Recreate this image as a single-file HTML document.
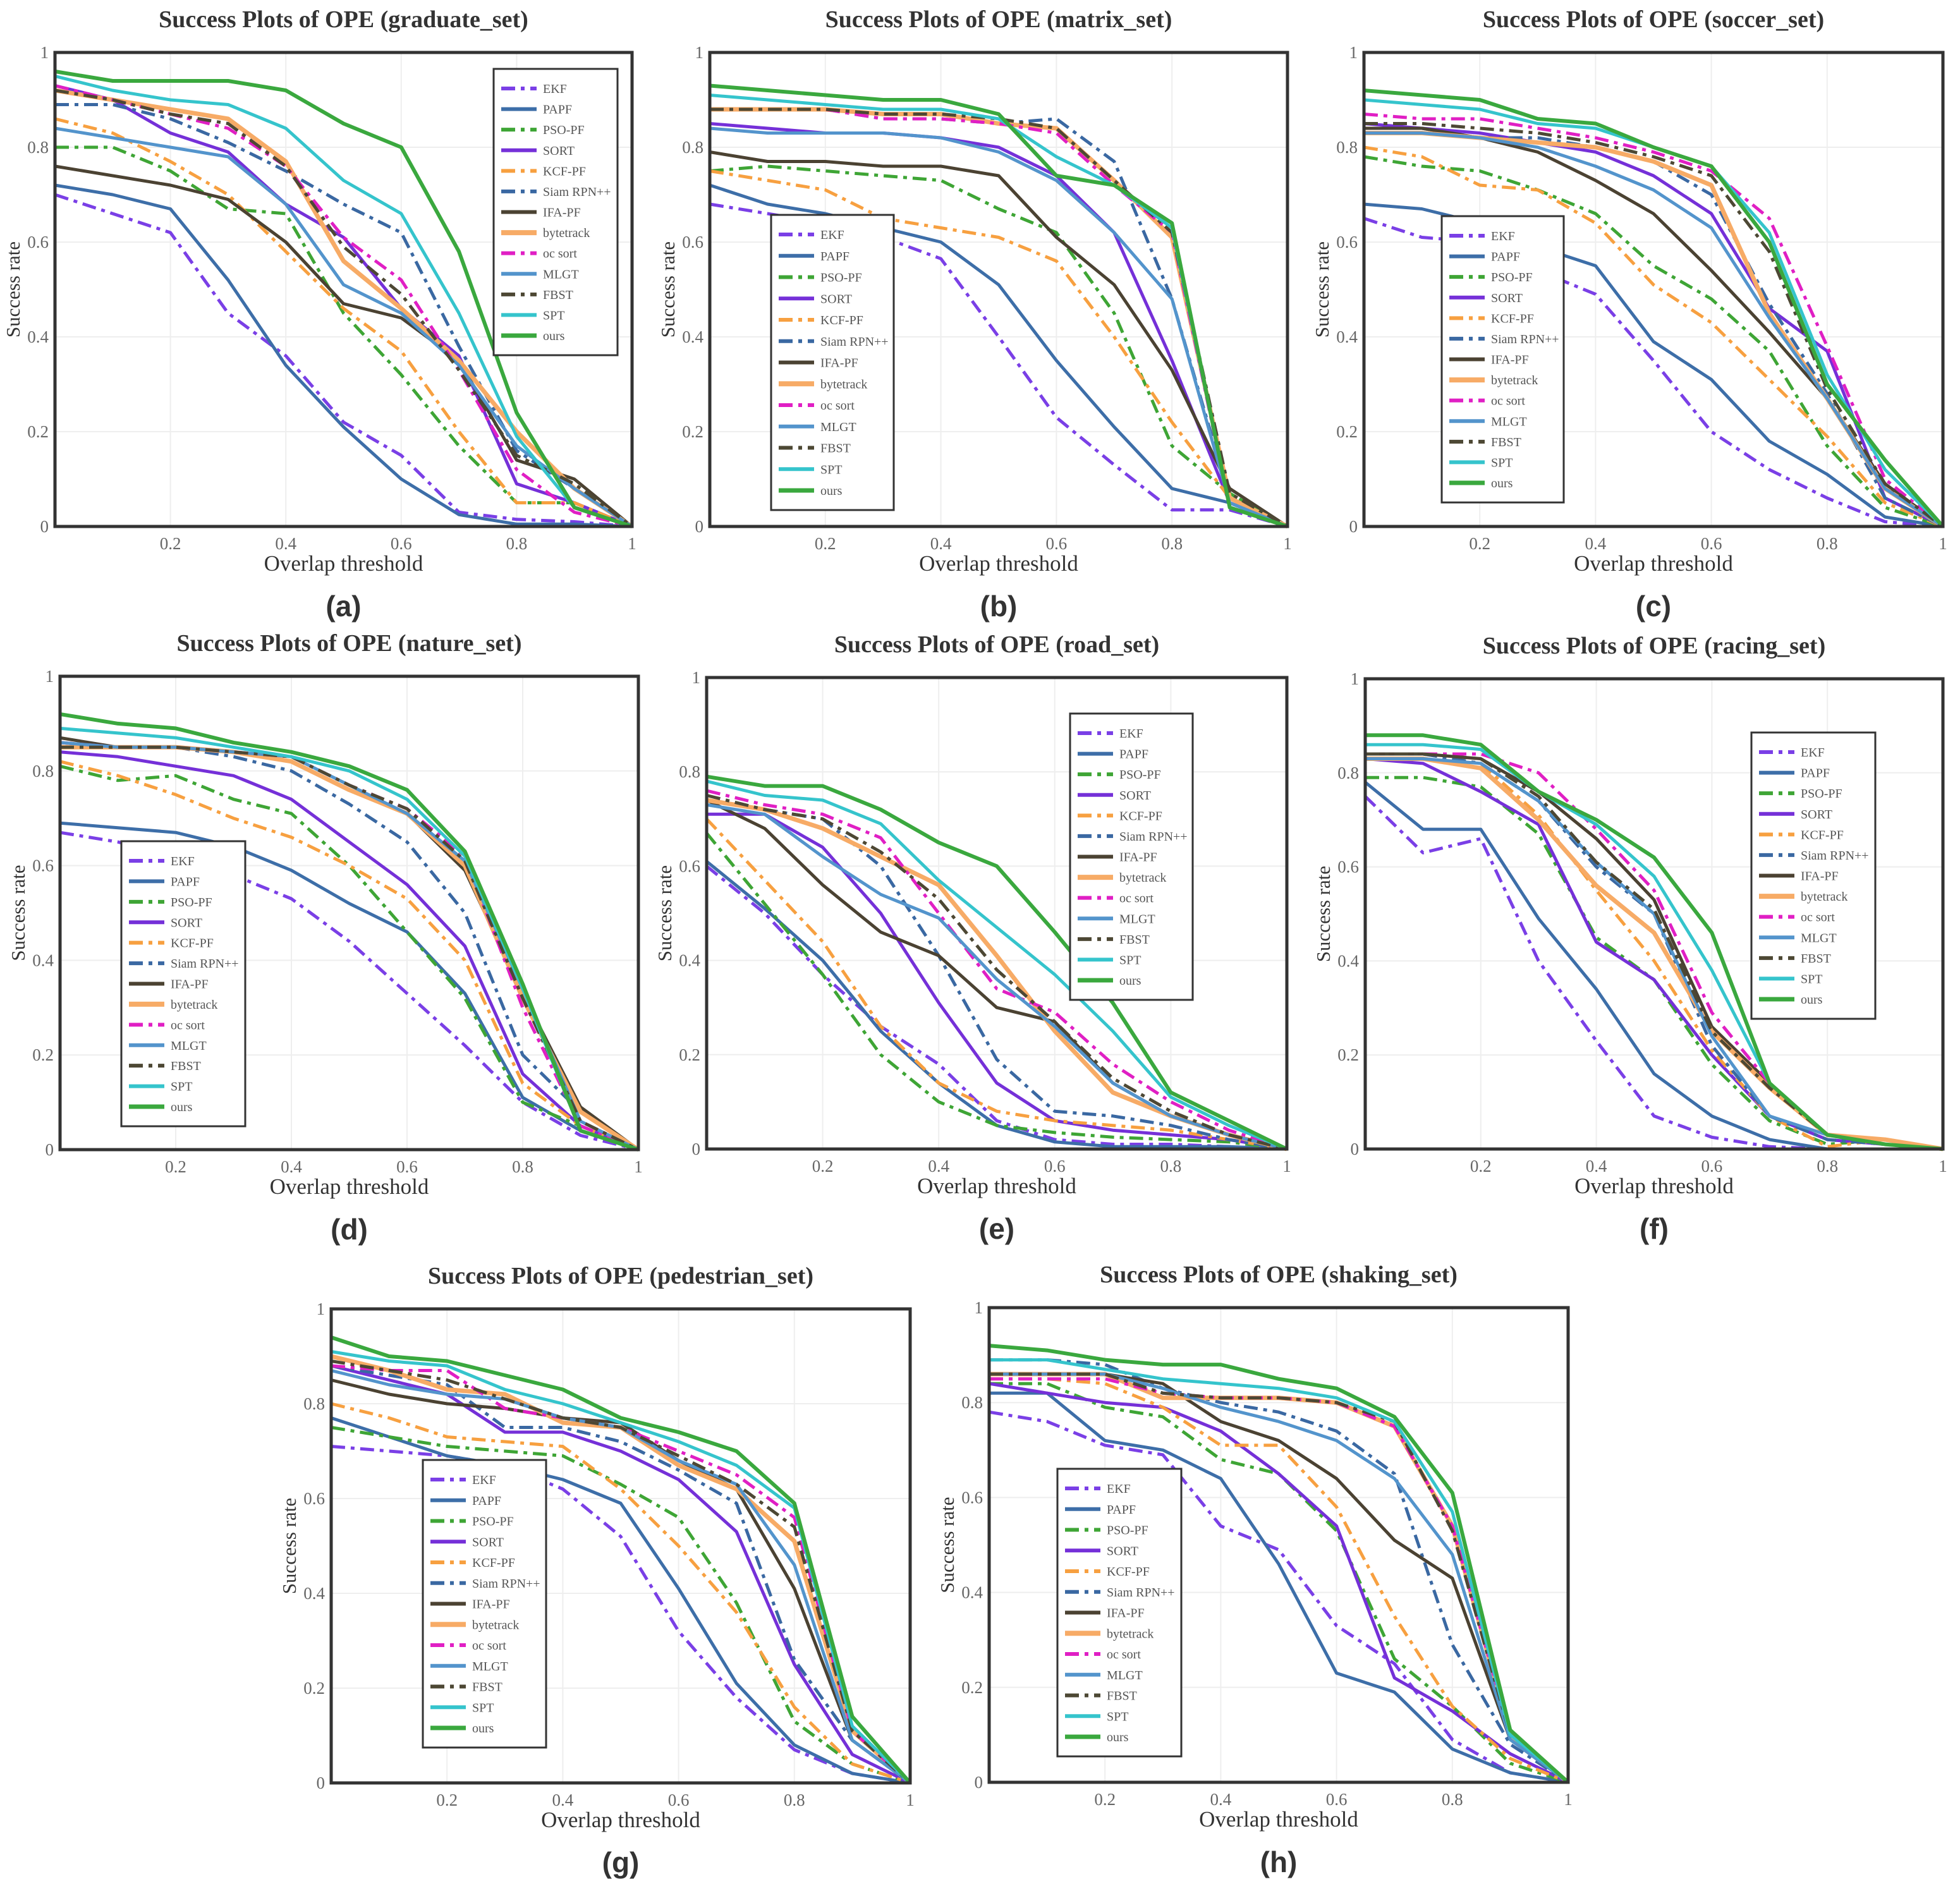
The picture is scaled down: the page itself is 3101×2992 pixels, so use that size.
<!DOCTYPE html>
<html><head><meta charset="utf-8">
<style>
html,body{margin:0;padding:0;background:#fff;}
svg{display:block;}
</style></head>
<body>
<svg id="fig" xmlns="http://www.w3.org/2000/svg" width="3101" height="2992" viewBox="0 0 3101 2992"></svg>
<script>
const thresholds = [0,0.1,0.2,0.3,0.4,0.5,0.6,0.7,0.8,0.9,1];
const seriesNames = ["EKF","PAPF","PSO-PF","SORT","KCF-PF","Siam RPN++","IFA-PF","bytetrack","oc sort","MLGT","FBST","SPT","ours"];
const xTickLabels = ["0.2","0.4","0.6","0.8","1"];
const yTickLabels = ["0","0.2","0.4","0.6","0.8","1"];
const panelTitles = ["graduate_set","matrix_set","soccer_set","nature_set","road_set","racing_set","pedestrian_set","shaking_set"];
const panelLetters = ["(a)","(b)","(c)","(d)","(e)","(f)","(g)","(h)"];

const graduateSet = [
[.70,.66,.62,.45,.36,.22,.15,.03,.015,.01,0],
[.72,.70,.67,.52,.34,.21,.10,.025,.005,.005,0],
[.80,.80,.75,.67,.66,.45,.32,.17,.05,.05,0],
[.93,.90,.83,.79,.68,.61,.46,.36,.09,.05,0],
[.86,.83,.77,.70,.58,.46,.37,.20,.05,.05,0],
[.89,.89,.86,.81,.75,.68,.62,.38,.16,.08,0],
[.76,.74,.72,.69,.60,.47,.44,.35,.14,.10,0],
[.92,.90,.88,.86,.77,.56,.46,.35,.20,.08,0],
[.93,.90,.87,.84,.76,.61,.52,.33,.12,.03,0],
[.84,.82,.80,.78,.68,.51,.45,.34,.17,.08,0],
[.92,.90,.87,.85,.76,.59,.49,.33,.15,.09,0],
[.95,.92,.90,.89,.84,.73,.66,.45,.19,.04,0],
[.96,.94,.94,.94,.92,.85,.80,.58,.24,.04,0]];
const matrixSet = [
[.68,.66,.64,.61,.565,.40,.23,.13,.035,.035,0],
[.72,.68,.66,.63,.60,.51,.35,.21,.08,.05,0],
[.75,.76,.75,.74,.73,.67,.62,.45,.17,.07,0],
[.85,.84,.83,.83,.82,.80,.74,.62,.35,.05,0],
[.75,.73,.71,.65,.63,.61,.56,.40,.22,.06,0],
[.88,.88,.88,.86,.86,.85,.86,.77,.48,.06,0],
[.79,.77,.77,.76,.76,.74,.61,.51,.33,.08,0],
[.88,.88,.88,.87,.87,.85,.84,.73,.61,.06,0],
[.88,.88,.88,.86,.86,.85,.83,.72,.62,.04,0],
[.84,.83,.83,.83,.82,.79,.73,.62,.48,.05,0],
[.88,.88,.88,.87,.87,.86,.84,.73,.62,.07,0],
[.91,.90,.89,.88,.88,.86,.78,.72,.63,.04,0],
[.93,.92,.91,.90,.90,.87,.74,.72,.64,.04,0]];
const soccerSet = [
[.65,.61,.60,.54,.49,.35,.20,.12,.06,.01,0],
[.68,.67,.64,.59,.55,.39,.31,.18,.11,.02,0],
[.78,.76,.75,.71,.66,.55,.48,.37,.17,.04,0],
[.85,.84,.83,.81,.79,.74,.66,.46,.37,.06,0],
[.80,.78,.72,.71,.64,.51,.43,.31,.19,.05,0],
[.84,.84,.82,.82,.80,.77,.70,.47,.28,.06,0],
[.84,.84,.82,.79,.73,.66,.54,.41,.27,.09,0],
[.83,.83,.82,.81,.80,.77,.72,.45,.27,.08,0],
[.87,.86,.86,.84,.82,.79,.75,.65,.38,.10,0],
[.83,.83,.82,.80,.76,.71,.63,.44,.27,.08,0],
[.85,.85,.84,.83,.81,.78,.74,.58,.29,.09,0],
[.90,.89,.88,.85,.84,.80,.76,.62,.32,.12,0],
[.92,.91,.90,.86,.85,.80,.76,.60,.30,.14,0]];
const natureSet = [
[.67,.65,.62,.58,.53,.44,.33,.22,.10,.03,0],
[.69,.68,.67,.64,.59,.52,.46,.33,.11,.04,0],
[.81,.78,.79,.74,.71,.60,.46,.32,.10,.05,0],
[.84,.83,.81,.79,.74,.65,.56,.43,.16,.05,0],
[.82,.79,.75,.70,.66,.60,.53,.40,.14,.05,0],
[.86,.85,.85,.83,.80,.73,.65,.50,.20,.08,0],
[.87,.85,.85,.84,.82,.76,.71,.59,.33,.09,0],
[.85,.85,.85,.84,.82,.76,.71,.60,.32,.08,0],
[.86,.85,.85,.84,.83,.77,.72,.62,.30,.05,0],
[.86,.85,.85,.84,.83,.77,.71,.61,.34,.06,0],
[.85,.85,.85,.84,.83,.77,.72,.61,.32,.06,0],
[.89,.88,.87,.85,.83,.80,.74,.62,.34,.04,0],
[.92,.90,.89,.86,.84,.81,.76,.63,.35,.04,0]];
const roadSet = [
[.60,.50,.37,.26,.18,.06,.02,.01,.01,.005,0],
[.61,.51,.40,.25,.14,.05,.015,.005,.005,.005,0],
[.67,.52,.37,.20,.10,.05,.035,.025,.02,.015,0],
[.71,.71,.64,.50,.31,.14,.06,.04,.03,.02,0],
[.70,.57,.44,.26,.14,.08,.06,.05,.04,.02,0],
[.74,.72,.70,.60,.41,.19,.08,.07,.05,.02,0],
[.74,.68,.56,.46,.41,.30,.27,.14,.07,.03,0],
[.74,.72,.68,.62,.56,.41,.25,.12,.07,.03,0],
[.76,.73,.71,.66,.50,.34,.29,.18,.10,.04,0],
[.73,.71,.62,.54,.49,.36,.26,.14,.07,.03,0],
[.75,.72,.70,.63,.53,.38,.27,.15,.08,.03,0],
[.78,.75,.74,.69,.57,.47,.37,.25,.11,.05,0],
[.79,.77,.77,.72,.65,.60,.46,.31,.12,.06,0]];
const racingSet = [
[.75,.63,.66,.40,.23,.07,.025,.005,0,0,0],
[.78,.68,.68,.49,.34,.16,.07,.02,0,0,0],
[.79,.79,.77,.67,.45,.36,.18,.06,.01,.02,0],
[.83,.82,.76,.69,.44,.36,.20,.07,.02,.01,0],
[.84,.84,.82,.71,.55,.40,.21,.07,.005,.02,0],
[.84,.84,.82,.74,.60,.50,.22,.07,.02,.01,0],
[.84,.84,.83,.76,.66,.53,.26,.14,.03,.01,0],
[.83,.83,.81,.70,.56,.46,.25,.13,.03,.02,0],
[.84,.84,.84,.80,.68,.55,.29,.14,.03,.01,0],
[.83,.83,.82,.74,.61,.50,.24,.07,.03,.01,0],
[.84,.84,.83,.75,.61,.51,.25,.13,.03,.01,0],
[.86,.86,.85,.76,.69,.58,.38,.14,.03,.01,0],
[.88,.88,.86,.76,.70,.62,.46,.14,.03,.01,0]];
const pedestrianSet = [
[.71,.70,.69,.67,.62,.52,.32,.18,.07,.02,0],
[.77,.73,.69,.67,.64,.59,.41,.21,.08,.02,0],
[.75,.73,.71,.70,.69,.63,.56,.38,.13,.04,0],
[.88,.85,.82,.74,.74,.70,.64,.53,.25,.06,0],
[.80,.77,.73,.72,.71,.62,.50,.36,.16,.04,0],
[.88,.86,.84,.75,.75,.72,.66,.59,.26,.09,0],
[.85,.82,.80,.79,.77,.76,.68,.62,.41,.09,0],
[.90,.87,.83,.82,.76,.75,.67,.62,.51,.11,0],
[.88,.87,.87,.79,.77,.75,.70,.65,.56,.11,0],
[.87,.84,.82,.81,.77,.75,.68,.63,.46,.09,0],
[.89,.87,.85,.81,.77,.75,.69,.63,.54,.11,0],
[.91,.89,.88,.83,.80,.76,.72,.67,.58,.12,0],
[.94,.90,.89,.86,.83,.77,.74,.70,.59,.14,0]];
const shakingSet = [
[.78,.76,.71,.69,.54,.49,.33,.25,.09,.02,0],
[.82,.82,.72,.70,.64,.46,.23,.19,.07,.02,0],
[.84,.84,.79,.77,.68,.65,.53,.26,.16,.04,0],
[.84,.82,.80,.79,.74,.65,.54,.22,.15,.06,0],
[.85,.85,.84,.79,.71,.71,.58,.35,.16,.05,0],
[.89,.89,.88,.83,.80,.78,.74,.65,.29,.08,0],
[.86,.86,.86,.84,.76,.72,.64,.51,.43,.09,0],
[.86,.86,.86,.81,.81,.81,.80,.75,.54,.10,0],
[.85,.85,.85,.82,.81,.81,.80,.75,.54,.10,0],
[.86,.86,.86,.83,.79,.76,.72,.64,.48,.09,0],
[.86,.86,.86,.82,.81,.81,.80,.76,.53,.10,0],
[.89,.89,.87,.85,.84,.83,.81,.76,.57,.10,0],
[.92,.91,.89,.88,.88,.85,.83,.77,.61,.11,0]];
const allSets = [graduateSet,matrixSet,soccerSet,natureSet,roadSet,racingSet,pedestrianSet,shakingSet];

// styling (not data)
const colors = ["#7a3fe6","#3d6ea8","#3ea535","#7530d8","#f7a040","#3a68a2","#4b4232","#f7ab66","#e01fc4","#5394cc","#4d4834","#35c4cc","#3aa83e"];
const dashed = [true,false,true,false,true,true,false,false,true,false,true,false,false];
const widths = [5,5,5,5,5,5,5,7,5,5,5,5,6];
const frames = [
 {L:87,R:1000,T:83,B:833},{L:1123,R:2037,T:83,B:833},{L:2158,R:3074,T:83,B:833},
 {L:95,R:1010,T:1070,B:1819},{L:1118,R:2036,T:1072,B:1818},{L:2160,R:3074,T:1074,B:1818},
 {L:524,R:1440,T:2071,B:2821},{L:1565,R:2481,T:2069,B:2820}];
const legends = [
 {x:781,y:109,w:196,h:453},{x:1220,y:340,w:194,h:467},{x:2281,y:342,w:193,h:453},
 {x:192,y:1331,w:196,h:451},{x:1693,y:1129,w:194,h:453},{x:2771,y:1159,w:196,h:453},
 {x:669,y:2310,w:195,h:455},{x:1673,y:2324,w:196,h:455}];

const NS="http://www.w3.org/2000/svg";
const svg=document.getElementById('fig');
function mk(tag,attrs,parent){const e=document.createElementNS(NS,tag);for(const k in attrs)e.setAttribute(k,attrs[k]);(parent||svg).appendChild(e);return e;}

allSets.forEach((set,p)=>{
  const f=frames[p];
  const sx=v=>f.L+v*(f.R-f.L);
  const sy=v=>f.B-v*(f.B-f.T);
  const cx=(f.L+f.R)/2;
  const g=mk('g',{});
  
  
  const t=mk('text',{x:cx,y:f.T-40,'text-anchor':'middle','font-family':'"Liberation Serif",serif','font-weight':'bold','font-size':38,fill:'#333'},g);
  t.textContent='Success Plots of OPE ('+panelTitles[p]+')';
  
  
  [0.2,0.4,0.6,0.8].forEach(v=>{
    const gx=mk('line',{x1:sx(v),x2:sx(v),y1:f.T,y2:f.B,stroke:'#eeeeee','stroke-width':2},g);
    
    
    const gy=mk('line',{x1:f.L,x2:f.R,y1:sy(v),y2:sy(v),stroke:'#eeeeee','stroke-width':2},g);
    
    
  });
  set.forEach((vals,i)=>{
    const d=vals.map((v,k)=>(k?'L':'M')+sx(thresholds[k]).toFixed(1)+' '+sy(v).toFixed(1)).join(' ');
    const pa=mk('path',{d:d,fill:'none',stroke:colors[i],'stroke-width':widths[i],'stroke-linejoin':'round'},g);
    if(dashed[i]) pa.setAttribute('stroke-dasharray','22 9 6 9');
    
    
  });
  const fr=mk('rect',{x:f.L,y:f.T,width:f.R-f.L,height:f.B-f.T,fill:'none',stroke:'#333','stroke-width':5},g);
  
  
  yTickLabels.forEach(lbl=>{
    const tt=mk('text',{x:f.L-10,y:sy(parseFloat(lbl))+9,'text-anchor':'end','font-family':'"Liberation Serif",serif','font-size':27,fill:'#666'},g);
    tt.textContent=lbl;
    
    
  });
  xTickLabels.forEach(lbl=>{
    const tt=mk('text',{x:sx(parseFloat(lbl)),y:f.B+36,'text-anchor':'middle','font-family':'"Liberation Serif",serif','font-size':27,fill:'#666'},g);
    tt.textContent=lbl;
    
    
  });
  const xl=mk('text',{x:cx,y:f.B+70,'text-anchor':'middle','font-family':'"Liberation Serif",serif','font-size':35,fill:'#333'},g);
  xl.textContent='Overlap threshold';
  
  
  const ym=(f.T+f.B)/2, yx=f.L-56;
  const yl=mk('text',{x:yx,y:ym,'text-anchor':'middle','font-family':'"Liberation Serif",serif','font-size':31,fill:'#333',transform:'rotate(-90 '+yx+' '+ym+')'},g);
  yl.textContent='Success rate';
  
  
  const pl=mk('text',{x:cx,y:f.B+142,'text-anchor':'middle','font-family':'"Liberation Sans",sans-serif','font-weight':'bold','font-size':46,fill:'#333'},g);
  pl.textContent=panelLetters[p];
  
  
  const lg=legends[p];
  const lgG=mk('g',{},g);
  
  
  const lb=mk('rect',{x:lg.x,y:lg.y,width:lg.w,height:lg.h,fill:'#fff',stroke:'#333','stroke-width':3},lgG);
  
  
  const step=(lg.h-62)/12;
  seriesNames.forEach((nm,i)=>{
    const yy=lg.y+31+i*step;
    const ent=mk('g',{},lgG);
    
    
    const ln=mk('line',{x1:lg.x+12,x2:lg.x+68,y1:yy,y2:yy,stroke:colors[i],'stroke-width':widths[i]+1},ent);
    if(dashed[i]) ln.setAttribute('stroke-dasharray','22 9 6 9');
    
    
    const lt=mk('text',{x:lg.x+78,y:yy+7,'font-family':'"Liberation Serif",serif','font-size':20,fill:'#555'},ent);
    lt.textContent=nm;
    
    
  });
});
</script>
</body></html>
